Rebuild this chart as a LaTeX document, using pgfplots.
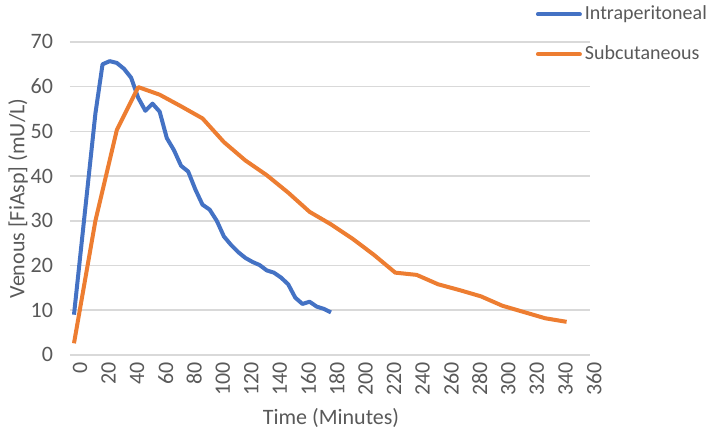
\documentclass[border=0pt]{standalone}
\usepackage{fontspec}
\setmainfont{Carlito}
\usepackage{pgfplots}
\pgfplotsset{compat=1.18}

\definecolor{ipblue}{HTML}{4472C4}
\definecolor{scorange}{HTML}{ED7D31}
\definecolor{txtgray}{HTML}{595959}
\definecolor{gridgray}{HTML}{D9D9D9}

\begin{document}
\begin{tikzpicture}
\begin{axis}[
    scale only axis,
    width=260pt, height=156.5pt,
    xmin=-2.8, xmax=361.4,
    ymin=0, ymax=70,
    xtick={0,20,...,360},
    ytick={0,10,...,70},
    major tick length=0pt,
    axis line style={draw=none},
    ymajorgrids,
    grid style={gridgray, line width=0.8pt},
    font=\fontsize{11}{13}\selectfont,
    /pgf/number format/assume math mode=true,
    tick label style={text=txtgray},
    xticklabel style={rotate=90, anchor=east, yshift=-3pt},
    yticklabel style={xshift=-5pt},
    xlabel={Time (Minutes)},
    ylabel={Venous [FiAsp] (mU/L)},
    label style={text=txtgray},
    xlabel style={at={(rel axis cs:0.502,-0.201)}, anchor=center},
    ylabel style={at={(rel axis cs:-0.1,0.5)}, anchor=center},
    legend style={at={(rel axis cs:0.896,1.128)}, anchor=north west,
        draw=none, fill=none, text=txtgray,
        font=\fontsize{10}{12}\selectfont,
        row sep=7.5pt, inner xsep=0pt, inner ysep=0pt, outer sep=0pt,
        nodes={inner xsep=1.5pt}},
    legend cell align=left,
    legend image code/.code={\draw[#1, line cap=round] (0pt,0pt) -- (21pt,0pt);},
    every axis plot/.append style={line width=2pt, line join=round, mark=none},
]
\addplot[ipblue] coordinates {
    (0,9) (15,54) (20,65) (25,65.7) (30,65.3) (35,64) (40,62) (45,57.5)
    (50,54.6) (55,56.2) (60,54.4) (65,48.5) (70,45.8) (75,42.3) (80,41)
    (85,37) (90,33.6) (95,32.5) (100,30) (105,26.5) (110,24.6) (115,23)
    (120,21.7) (125,20.8) (130,20.1) (135,18.9) (140,18.4) (145,17.3)
    (150,15.8) (155,12.8) (160,11.4) (165,11.9) (170,10.8) (175,10.3)
    (180,9.5)
};
\addlegendentry{Intraperitoneal}
\addplot[scorange] coordinates {
    (0,2.6) (15,30) (30,50.3) (45,59.9) (60,58.2) (75,55.6) (90,52.9)
    (105,47.6) (120,43.5) (135,40.2) (150,36.3) (165,32) (180,29.2)
    (195,26) (210,22.4) (225,18.4) (240,17.9) (255,15.8) (270,14.5)
    (285,13.1) (300,11) (315,9.6) (330,8.2) (345,7.4)
};
\addlegendentry{Subcutaneous}
\coordinate (bbsw) at (rel axis cs:-0.1346,-0.262);
\coordinate (bbne) at (rel axis cs:1.2269,1.134);
\end{axis}
\pgfresetboundingbox
\path[use as bounding box] (bbsw) rectangle (bbne);
\end{tikzpicture}
\end{document}
